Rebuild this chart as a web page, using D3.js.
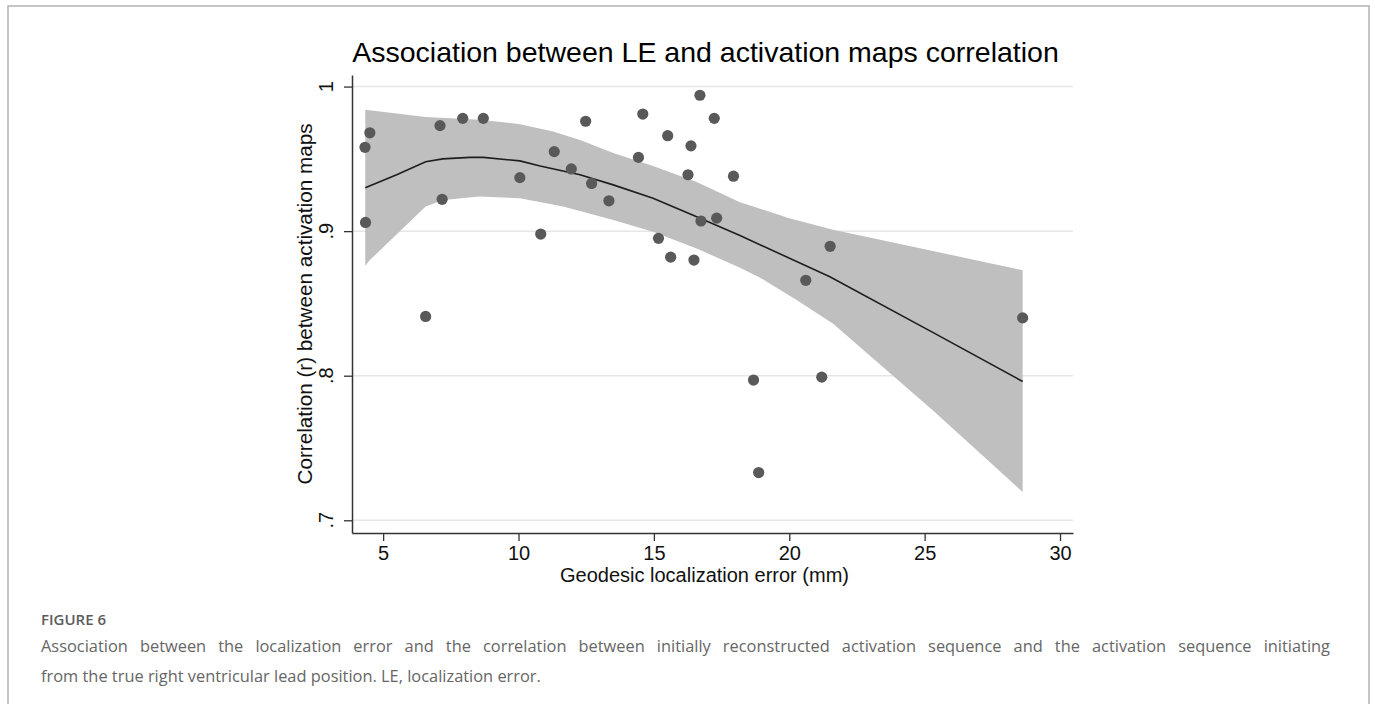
<!DOCTYPE html>
<html lang="en">
  <head>
    <meta charset="utf-8" />
    <title>Association between LE and activation maps correlation</title>
    <script src="https://cdn.jsdelivr.net/npm/d3@7/dist/d3.min.js"></script>
    <style>
      body { margin: 0; background: #fff; }
    </style>
  </head>
  <body>
    <svg id="fig" width="1375" height="704" viewBox="0 0 1375 704"></svg>
    <script>
      // scatter: geodesic localization error (mm) vs correlation (r)
      const errMm = [4.33, 4.51, 4.35, 6.57, 7.10, 7.18, 7.94, 8.70, 10.05, 10.82,
        11.32, 11.95, 12.48, 12.70, 13.34, 14.43, 14.59, 15.17, 15.51, 15.62,
        16.26, 16.37, 16.48, 16.70, 16.74, 17.23, 17.32, 17.94, 18.68, 18.87,
        20.61, 21.20, 21.51, 28.62];
      const corrR = [0.958, 0.968, 0.906, 0.841, 0.973, 0.922, 0.978, 0.978, 0.937, 0.898,
        0.955, 0.943, 0.976, 0.933, 0.921, 0.951, 0.981, 0.895, 0.966, 0.882,
        0.939, 0.959, 0.880, 0.994, 0.907, 0.978, 0.909, 0.938, 0.797, 0.733,
        0.866, 0.799, 0.8895, 0.840];

      // fitted line
      const fitX = [4.34, 5.5, 6.57, 7.2, 8.2, 8.7, 10.05, 10.8, 12.27, 13.5, 14.97, 16.58, 18.18, 21.5, 25.3, 28.62];
      const fitY = [0.930, 0.939, 0.948, 0.950, 0.951, 0.951, 0.9486, 0.945, 0.939, 0.932, 0.9227, 0.910, 0.897, 0.8684, 0.830, 0.796];

      // confidence band
      const upX = [4.34, 6.57, 8.57, 10.05, 11.28, 12.27, 13.5, 14.97, 16.58, 18.18, 20.0, 21.62, 28.62];
      const upY = [0.984, 0.979, 0.977, 0.974, 0.969, 0.963, 0.954, 0.945, 0.934, 0.920, 0.909, 0.901, 0.873];
      const loX = [4.34, 4.51, 6.57, 7.22, 8.57, 10.05, 11.65, 13.5, 14.97, 16.58, 18.18, 18.91, 20.3, 21.62, 25.31, 28.62];
      const loY = [0.876, 0.880, 0.917, 0.9215, 0.924, 0.9227, 0.917, 0.9077, 0.8996, 0.888, 0.8747, 0.868, 0.852, 0.836, 0.776, 0.7195];

      const xTicks = [5, 10, 15, 20, 25, 30];
      const yTicks = [0.7, 0.8, 0.9, 1];
      const yTickLabels = [".7", ".8", ".9", "1"];

      const svg = d3.select("#fig").attr("font-family", "'Liberation Sans', Arial, sans-serif");

      // outer frame
      svg.append("rect")
        .attr("x", 8).attr("y", 6)
        .attr("width", 1361).attr("height", 720)
        .attr("fill", "none")
        .attr("stroke", "#b3b3b3")
        .attr("stroke-width", 1.5);

      const plotL = 352, plotR = 1073, plotT = 75, plotB = 533;

      const x = d3.scaleLinear().domain([3.85, 30.48]).range([plotL, plotR]);
      const y = d3.scaleLinear().domain([0.6912, 1.008]).range([plotB, plotT]);

      // gridlines
      svg.append("g")
        .selectAll("line")
        .data(yTicks)
        .join("line")
        .attr("x1", plotL).attr("x2", plotR)
        .attr("y1", d => y(d)).attr("y2", d => y(d))
        .attr("stroke", "#e6e6e6")
        .attr("stroke-width", 1.5);

      // CI band
      const band = upX.map((v, i) => [x(v), y(upY[i])])
        .concat(loX.map((v, i) => [x(v), y(loY[i])]).reverse());
      svg.append("path")
        .attr("d", d3.line()(band) + "Z")
        .attr("fill", "#bfbfbf");

      // fitted line
      svg.append("path")
        .datum(fitX.map((v, i) => [v, fitY[i]]))
        .attr("d", d3.line().x(d => x(d[0])).y(d => y(d[1])))
        .attr("fill", "none")
        .attr("stroke", "#1e1e1e")
        .attr("stroke-width", 1.6);

      // points
      svg.append("g")
        .selectAll("circle")
        .data(errMm.map((v, i) => [v, corrR[i]]))
        .join("circle")
        .attr("cx", d => x(d[0]))
        .attr("cy", d => y(d[1]))
        .attr("r", 5.6)
        .attr("fill", "#595959");

      // x axis
      const xAxis = svg.append("g")
        .attr("transform", `translate(0,${plotB})`)
        .call(d3.axisBottom(x).tickValues(xTicks).tickSize(8).tickPadding(5).tickSizeOuter(0));
      xAxis.select(".domain").attr("stroke", "#333").attr("stroke-width", 1.5);
      xAxis.selectAll(".tick line").attr("stroke", "#333").attr("stroke-width", 1.3);
      xAxis.selectAll("text")
        .attr("font-size", "20px")
        .attr("font-family", "'Liberation Sans', Arial, sans-serif")
        .attr("fill", "#111");

      // y axis (rotated tick labels, Stata style)
      const yAxis = svg.append("g")
        .attr("transform", `translate(${plotL},0)`)
        .call(d3.axisLeft(y).tickValues(yTicks).tickSize(8).tickSizeOuter(0).tickFormat(""));
      yAxis.select(".domain").attr("stroke", "#333").attr("stroke-width", 1.5);
      yAxis.selectAll(".tick line").attr("stroke", "#333").attr("stroke-width", 1.3);
      svg.append("g")
        .selectAll("text")
        .data(yTicks)
        .join("text")
        .attr("transform", d => `translate(333,${y(d)}) rotate(-90)`)
        .attr("text-anchor", "middle")
        .attr("font-size", "20px")
        .attr("fill", "#111")
        .text((d, i) => yTickLabels[i]);

      // axis titles
      svg.append("text")
        .attr("transform", `translate(312,${(plotT + plotB) / 2}) rotate(-90)`)
        .attr("text-anchor", "middle")
        .attr("font-size", "20.7px")
        .attr("fill", "#111")
        .text("Correlation (r) between activation maps");

      svg.append("text")
        .attr("x", (plotL + plotR) / 2 - 8)
        .attr("y", 582)
        .attr("text-anchor", "middle")
        .attr("font-size", "20px")
        .attr("fill", "#111")
        .text("Geodesic localization error (mm)");

      // chart title
      svg.append("text")
        .attr("x", 705.5)
        .attr("y", 62)
        .attr("text-anchor", "middle")
        .attr("font-size", "28.5px")
        .attr("fill", "#000")
        .text("Association between LE and activation maps correlation");

      // caption (first line justified to the text column width)
      const capL = 41, capR = 1330;
      const cap = svg.append("g").attr("font-family", "'Open Sans', 'Noto Sans', sans-serif").attr("fill", "#666");
      cap.append("text")
        .attr("x", capL).attr("y", 625)
        .attr("font-size", "15px")
        .attr("font-weight", 600)
        .attr("fill", "#5c5c5c")
        .text("FIGURE 6");
      const line1 = cap.append("text")
        .attr("x", capL).attr("y", 652)
        .attr("font-size", "16.4px")
        .text("Association between the localization error and the correlation between initially reconstructed activation sequence and the activation sequence initiating");
      const natural = line1.node().getComputedTextLength();
      const gaps = line1.text().split(" ").length - 1;
      line1.attr("word-spacing", Math.max(0, (capR - capL - natural) / gaps));
      cap.append("text")
        .attr("x", capL).attr("y", 682)
        .attr("font-size", "16.4px")
        .text("from the true right ventricular lead position. LE, localization error.");
    </script>
  </body>
</html>
